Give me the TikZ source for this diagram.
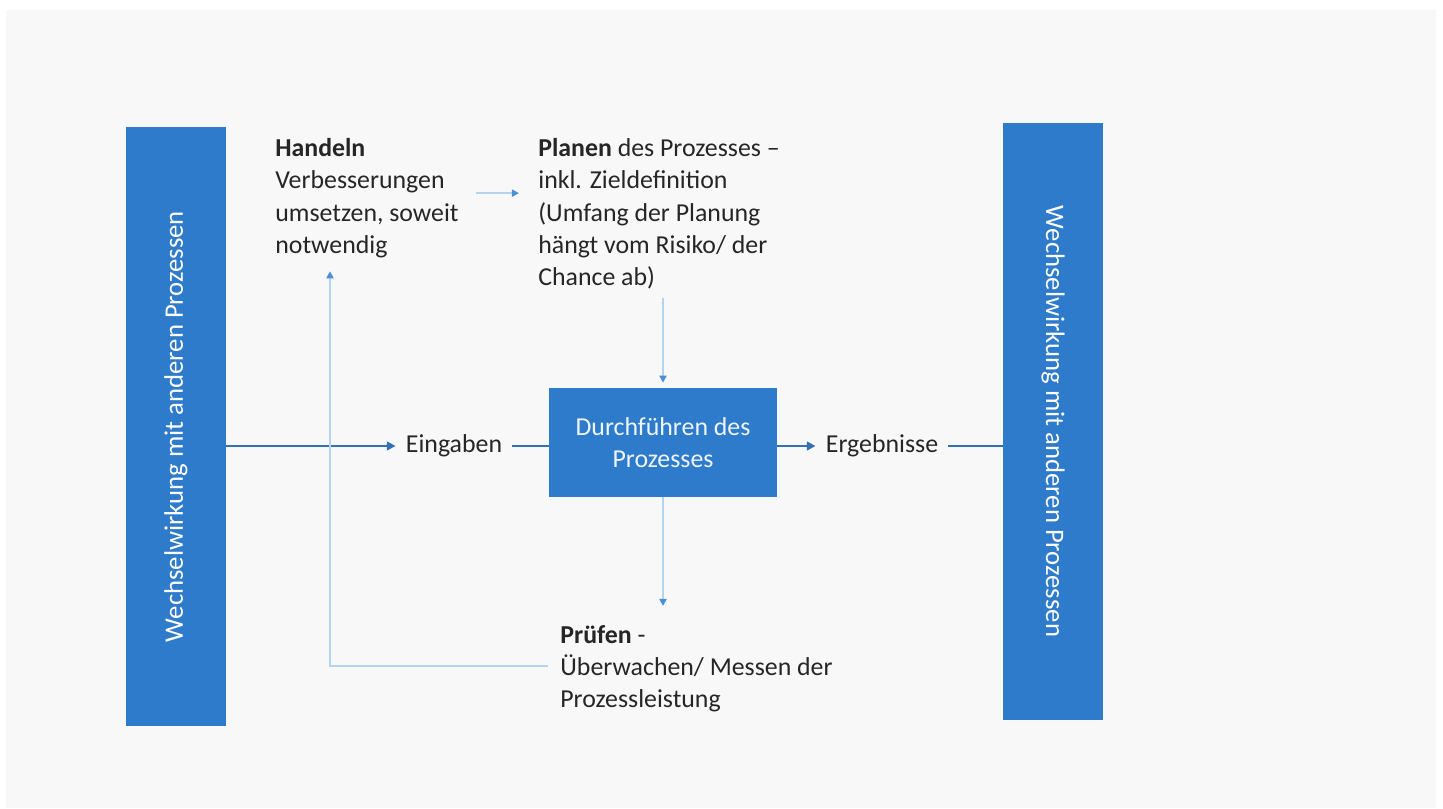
\documentclass[tikz,border=0pt]{standalone}
\usepackage{fontspec}
\setmainfont{Carlito}
\usetikzlibrary{arrows.meta}
\definecolor{hgrau}{HTML}{F8F8F8}
\definecolor{blau}{HTML}{2E7BCB}
\definecolor{linie}{HTML}{3470B5}
\definecolor{hellblau}{HTML}{B4D3F0}
\definecolor{spitze}{HTML}{4A8FD8}
\definecolor{schrift}{HTML}{262626}
\begin{document}
\begin{tikzpicture}[x=0.02cm,y=-0.02cm,font=\fontsize{14.7}{18.4}\selectfont,
  balken/.style={fill=blau,text=white,minimum height=2cm,inner sep=0pt},
  kasten/.style={fill=blau,text=white!92!blau,align=center,minimum width=4.56cm,minimum height=2.18cm,inner sep=0pt},
  txt/.style={align=left,anchor=north west,inner sep=0pt,text=schrift},
  marke/.style={inner xsep=0.2cm,inner ysep=0pt,text=schrift},
  fluss/.style={draw=linie,line width=1.6pt},
  duenn/.style={draw=hellblau,line width=1.1pt,-{Triangle[length=4pt,width=4pt,color=spitze]}}]
% Hintergrund
\fill[white](0,0)rectangle(1443,808);
\fill[hgrau](6,10)rectangle(1436,808);
% Balken links und rechts
\node[balken,rotate=90,minimum width=11.98cm,font=\fontsize{15.2}{18.4}\selectfont](links)at(176,426.5){Wechselwirkung mit anderen Prozessen};
\node[balken,rotate=-90,minimum width=11.94cm,font=\fontsize{15.2}{18.4}\selectfont](rechts)at(1053,421.5){Wechselwirkung mit anderen Prozessen};
% Prozess
\node[kasten](box)at(663,442.5){Durchführen des\\Prozesses};
\node[marke](eingaben)at(454,446){Eingaben};
\node[marke](ergebnisse)at(882,446){Ergebnisse};
% PDCA-Texte
\node[txt](handeln)at(275,138){\textbf{Handeln}\\Verbesserungen\\umsetzen, soweit\\notwendig};
\node[txt](planen)at(538,138){\textbf{Planen} des Prozesses –\\inkl. Zieldefinition\\(Umfang der Planung\\hängt vom Risiko/ der\\Chance ab)};
\node[txt](pruefen)at(560,625){\textbf{Prüfen} -\\Überwachen/ Messen der\\Prozessleistung};
\coordinate(knick)at(330,666);
% Fluss
\draw[fluss,-{Triangle[length=5pt,width=5pt]}](links.south|-eingaben)--(eingaben.west);
\draw[fluss](eingaben.east)--(eingaben.east-|box.west);
\draw[fluss,-{Triangle[length=5pt,width=5pt]}](box.east|-ergebnisse)--(ergebnisse.west);
\draw[fluss](ergebnisse.east)--(rechts.south|-ergebnisse);
% Kreislauf
\draw[duenn,shorten <=0.34cm,shorten >=0.38cm]([yshift=0.1cm]handeln.east)--([yshift=0.1cm]handeln.east-|planen.west);
\draw[duenn,shorten <=0.16cm,shorten >=0.1cm](planen.south-|box.north)--(box.north);
\draw[duenn,shorten >=0.38cm](box.south)--(box.south|-pruefen.north);
\draw[duenn,shorten <=0.24cm,shorten >=0.26cm](pruefen.west|-knick)--(knick)--(knick|-handeln.south);
\end{tikzpicture}
\end{document}
